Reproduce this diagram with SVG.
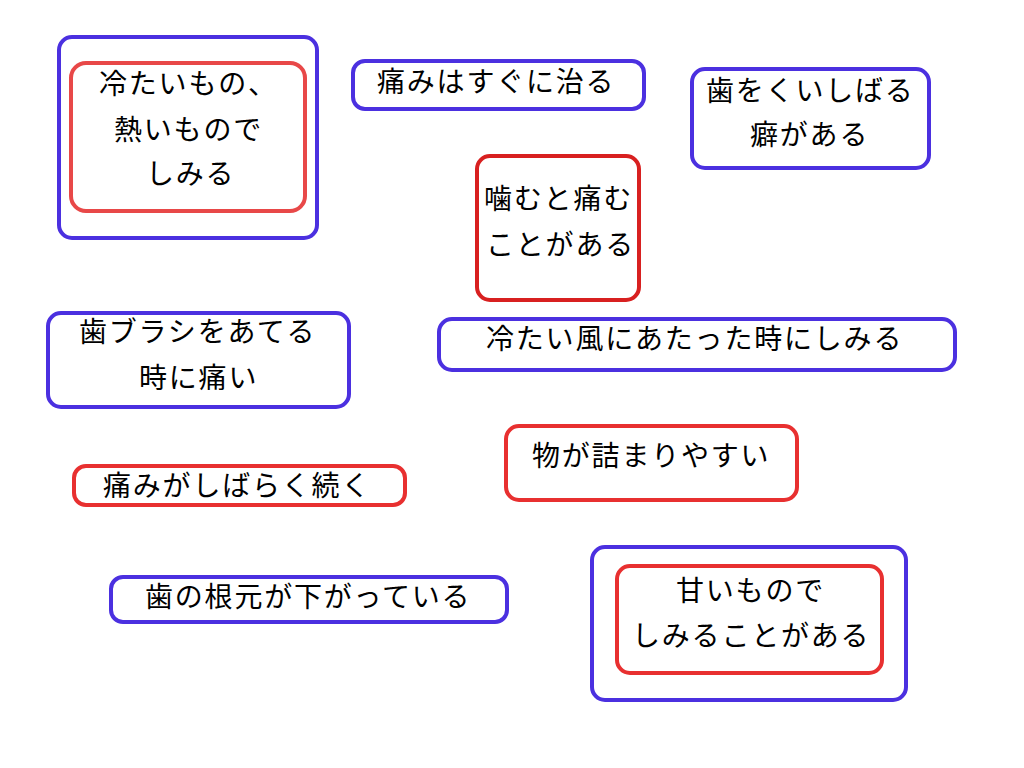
<svg xmlns="http://www.w3.org/2000/svg" width="1024" height="768" viewBox="0 0 1024 768">
<style>
.b{fill:none;stroke:#4B30E0;stroke-width:4}
.r{fill:none;stroke:#E83030;stroke-width:4}
.r1{fill:none;stroke:#E84848;stroke-width:4}
.r2{fill:none;stroke:#D82020;stroke-width:4}
text{font-family:"Noto Sans CJK JP","Noto Sans CJK SC",sans-serif;font-size:28px;letter-spacing:1.8px;fill:#000}
</style>
<rect width="1024" height="768" fill="#fff"/>
<g id="connectors"/>
<g id="n1">
<rect class="b" x="59" y="37" width="258" height="201" rx="13"/>
<rect class="r1" x="71" y="63" width="234" height="148" rx="15"/>
<text x="99" y="94">冷たいもの、</text>
<text x="114" y="140">熱いもので</text>
<text x="146" y="184">しみる</text>
</g>
<g id="n2">
<rect class="b" x="353" y="61" width="291" height="48" rx="12"/>
<text x="377" y="92">痛みはすぐに治る</text>
</g>
<g id="n3">
<rect class="b" x="692" y="69" width="237" height="99" rx="13"/>
<text x="706" y="101">歯をくいしばる</text>
<text x="750" y="145">癖がある</text>
</g>
<g id="n4">
<rect class="r2" x="477" y="156" width="162" height="144" rx="13"/>
<text x="484" y="209">噛むと痛む</text>
<text x="486" y="255">ことがある</text>
</g>
<g id="n5">
<rect class="b" x="48" y="313" width="301" height="94" rx="13"/>
<text x="79" y="342">歯ブラシをあてる</text>
<text x="139" y="388">時に痛い</text>
</g>
<g id="n6">
<rect class="b" x="439" y="319" width="516" height="51" rx="13"/>
<text x="486" y="349">冷たい風にあたった時にしみる</text>
</g>
<g id="n7">
<rect class="r" x="506" y="426" width="291" height="74" rx="13"/>
<text x="532" y="466">物が詰まりやすい</text>
</g>
<g id="n8">
<rect class="r" x="74" y="466" width="331" height="39" rx="12"/>
<text x="103" y="496">痛みがしばらく続く</text>
</g>
<g id="n9">
<rect class="b" x="111" y="577" width="396" height="45" rx="12"/>
<text x="145" y="607">歯の根元が下がっている</text>
</g>
<g id="n10">
<rect class="b" x="592" y="547" width="314" height="153" rx="13"/>
<rect class="r" x="617" y="566" width="265" height="107" rx="13"/>
<text x="676" y="601">甘いもので</text>
<text x="632" y="646">しみることがある</text>
</g>
</svg>
